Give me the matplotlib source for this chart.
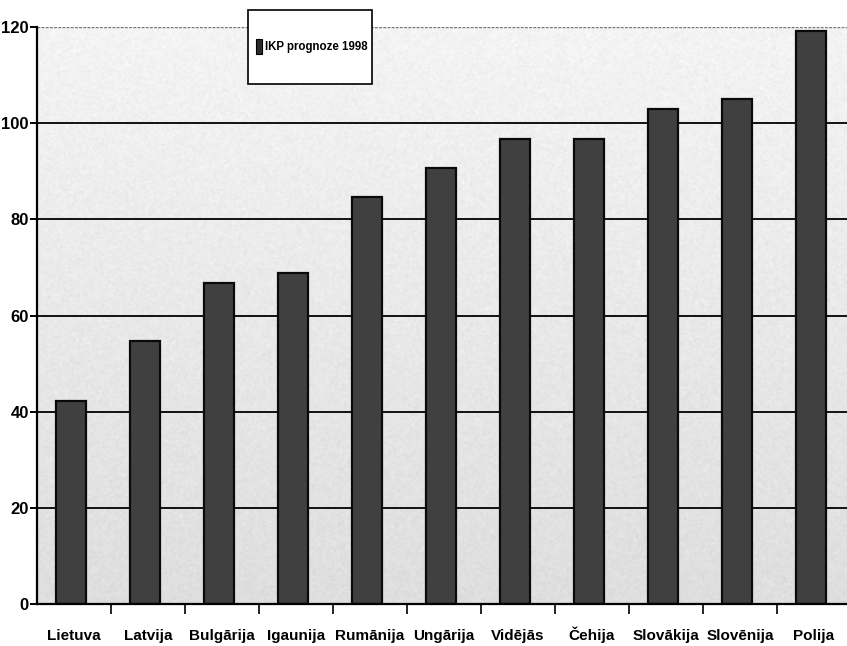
import numpy as np
import matplotlib
matplotlib.use("Agg")
import matplotlib.pyplot as plt
from matplotlib.patches import Rectangle

categories = ["Lietuva", "Latvija", "Bulgārija", "Igaunija", "Rumānija", "Ungārija",
              "Vidējās", "Čehija", "Slovākija", "Slovēnija", "Polija"]
values = [42.2, 54.7, 66.7, 68.8, 84.7, 90.7, 96.8, 96.8, 102.9, 105.1, 119.1]
yticks = [0, 20, 40, 60, 80, 100, 120]
legend_label = "IKP prognoze 1998"

plt.rcParams['font.family'] = ['Liberation Sans', 'DejaVu Sans']

fig = plt.figure(figsize=(8.47, 6.46), dpi=100)
ax = fig.add_axes([37/847, 42/646, 814/847, 577/646])

n = len(categories)
x = np.arange(n)
ax.set_xlim(-0.5, n - 0.5)
ax.set_ylim(0, 120)

# textured gray background gradient
rng = np.random.default_rng(3)
h, w = 300, 400
grad = np.linspace(0.87, 0.955, h)[:, None] * np.ones((1, w))
tex = grad + rng.normal(0, 0.012, (h, w))
ax.imshow(np.clip(tex, 0, 1), cmap='gray', vmin=0, vmax=1, aspect='auto',
          extent=(-0.5, n - 0.5, 0, 120), origin='lower', zorder=0,
          interpolation='bilinear')

for yv in yticks[1:-1]:
    ax.axhline(yv, color='#111111', lw=1.4, zorder=1)
ax.axhline(120, color='#777777', lw=1.0, ls=(0, (2, 1)), zorder=1)

ax.bar(x - 0.04, values, width=0.41, color='#404040', edgecolor='#0a0a0a',
       linewidth=1.6, zorder=2)

for s in ['top', 'right']:
    ax.spines[s].set_visible(False)
ax.spines['left'].set_linewidth(1.6)
ax.spines['bottom'].set_linewidth(1.6)
ax.spines['left'].set_zorder(3)

ax.set_yticks(yticks)
ax.set_yticklabels([str(v) for v in yticks], fontsize=12, fontweight='bold')
ax.tick_params(axis='y', length=5, width=1.4, pad=1)

ax.set_xticks(x)
ax.set_xticklabels(categories, fontsize=11, fontweight='bold', va='baseline')
ax.tick_params(axis='x', length=0, pad=26)
ax.set_xticks(np.arange(0.5, n - 0.5, 1), minor=True)
ax.tick_params(axis='x', which='minor', length=7, width=1.2, direction='out')

# legend box
lx0, ly0, lw_, lh_ = 248/847, 1 - 84/646, 124/847, 74/646
fig.patches.append(Rectangle((lx0, ly0), lw_, lh_, transform=fig.transFigure,
                             facecolor='white', edgecolor='black', lw=1.2, zorder=5))
fig.patches.append(Rectangle((256/847, 1 - 54/646), 6/847, 15/646, transform=fig.transFigure,
                             facecolor='#2a2a2a', edgecolor='black', lw=0.8, zorder=6))
fig.text(265/847, 1 - 47/646, legend_label, fontsize=8.3, fontweight='bold',
         va='center', ha='left', zorder=7)

fig.savefig("out.png", dpi=100)
